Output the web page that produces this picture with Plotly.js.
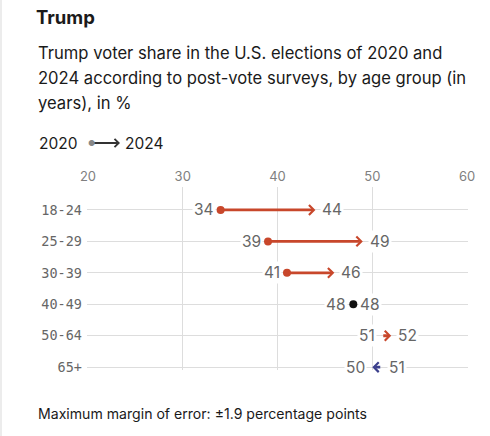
<!DOCTYPE html>
<html>
<head>
<meta charset="utf-8">
<script src="https://cdn.plot.ly/plotly-3.0.1.min.js"></script>
<style>
  html, body { margin: 0; padding: 0; background: #fff; }
  #chart { width: 490px; height: 436px; }
</style>
</head>
<body>
<div id="chart"></div>
<script>
// ---- data ----
const ageGroups = ['18-24', '25-29', '30-39', '40-49', '50-64', '65+'];
const share2020 = [34, 39, 41, 48, 51, 51];
const share2024 = [44, 49, 46, 48, 52, 50];
const xTicks = [20, 30, 40, 50, 60];

const titleText = 'Trump';
const subtitleLines = [
  'Trump voter share in the U.S. elections of 2020 and',
  '2024 according to post-vote surveys, by age group (in',
  'years), in %'
];
const legendFrom = '2020';
const legendTo = '2024';
const footerText = 'Maximum margin of error: ±1.9 percentage points';

// ---- style ----
const FONT = 'Inter, "Open Sans", sans-serif';
const MONO = '"DejaVu Sans Mono", "Liberation Mono", monospace';
const RED = '#c8472b';
const NAVY = '#3b3f8c';
const SAME = '#111111';
const TEXT = '#1a1a1a';
const GREY = '#666666';

const W = 490, H = 436;
const M = { l: 87, r: 22, t: 187, b: 66 };
const plotW = W - M.l - M.r, plotH = H - M.t - M.b;
const px2x = px => (px - M.l) / plotW;
const py2y = py => (H - M.b - py) / plotH;

const idx = ageGroups.map((_, i) => i);
const colorOf = i => {
  const d = share2024[i] - share2020[i];
  return d > 0 ? RED : (d < 0 ? NAVY : SAME);
};

const dots = {
  type: 'scatter', mode: 'markers',
  x: share2020, y: idx,
  marker: {
    color: idx.map(colorOf),
    opacity: 1,
    size: idx.map(i => Math.abs(share2024[i] - share2020[i]) === 1 ? 0 : 8),
    line: { width: 0 }
  },
  hoverinfo: 'skip', showlegend: false, cliponaxis: false
};

const annotations = [];

// arrows
idx.forEach(i => {
  if (share2024[i] === share2020[i]) return;
  annotations.push({
    xref: 'x', yref: 'y', axref: 'x', ayref: 'y',
    x: share2024[i], y: i, ax: share2020[i], ay: i,
    text: '', showarrow: true, arrowhead: 4, arrowsize: 0.68, arrowwidth: 2.8,
    arrowcolor: colorOf(i), standoff: 0, startstandoff: 0
  });
});

// value labels
idx.forEach(i => {
  const a = share2020[i], b = share2024[i];
  const lo = Math.min(a, b), hi = Math.max(a, b);
  const common = { xref: 'x', yref: 'y', y: i, showarrow: false, bgcolor: '#ffffff', borderpad: 1,
    font: { family: FONT, size: 15.5, color: GREY }, yanchor: 'middle' };
  annotations.push(Object.assign({}, common, { x: lo, text: String(lo), xanchor: 'right', xshift: -5 }));
  annotations.push(Object.assign({}, common, { x: hi, text: String(hi), xanchor: 'left', xshift: 5 }));
});

// header texts
const paperText = (px, py, text, size, extra) => Object.assign({
  xref: 'paper', yref: 'paper', x: px2x(px), y: py2y(py), xanchor: 'left', yanchor: 'middle',
  text: text, showarrow: false, font: { family: FONT, size: size, color: TEXT }
}, extra || {});

subtitleLines.forEach((t, k) => annotations.push(paperText(36, 53 + k * 25, t, 16.6)));
annotations.push(paperText(37, 143, legendFrom, 15.5));
annotations.push(paperText(86, 143, '●', 8, { font: { family: FONT, size: 8, color: '#888' } }));
annotations.push({
  xref: 'paper', yref: 'paper', x: px2x(120), y: py2y(143), ax: -27, ay: 0,
  text: '', showarrow: true, arrowhead: 4, arrowsize: 0.9, arrowwidth: 1.8, arrowcolor: '#333',
  standoff: 0, startstandoff: 0
});
annotations.push(paperText(123, 143, legendTo, 15.5));
annotations.push(paperText(36, 414, footerText, 14.1));

const layout = {
  width: W, height: H,
  margin: M,
  paper_bgcolor: '#ffffff', plot_bgcolor: '#ffffff',
  font: { family: FONT, color: TEXT },
  title: {
    text: '<b>' + titleText + '</b>',
    x: 36 / W, xanchor: 'left', xref: 'container',
    y: 1 - 18 / H, yanchor: 'middle', yref: 'container',
    font: { family: FONT, size: 18.5, color: TEXT }
  },
  xaxis: {
    side: 'top', range: [19.9, 60.1],
    tickvals: xTicks, ticktext: xTicks.map(String),
    showgrid: true, gridcolor: '#dddddd', gridwidth: 1,
    zeroline: false, showline: false, ticks: '',
    tickfont: { family: FONT, size: 13, color: '#808080' },
    ticklabelstandoff: 2,
    fixedrange: true
  },
  yaxis: {
    range: [5.09, -0.73],
    tickvals: idx, ticktext: ageGroups,
    showgrid: true, gridcolor: '#dddddd', gridwidth: 1,
    zeroline: false, showline: false, ticks: '',
    tickfont: { family: MONO, size: 13.5, color: '#666' },
    ticklabelstandoff: 4,
    fixedrange: true
  },
  shapes: [{
    type: 'line', xref: 'paper', yref: 'paper',
    x0: px2x(1), x1: px2x(1), y0: py2y(436), y1: py2y(0),
    line: { color: '#e6e6e6', width: 1.5 }
  }],
  annotations: annotations,
  showlegend: false
};

Plotly.newPlot('chart', [dots], layout, { staticPlot: true, displayModeBar: false });
</script>
</body>
</html>
